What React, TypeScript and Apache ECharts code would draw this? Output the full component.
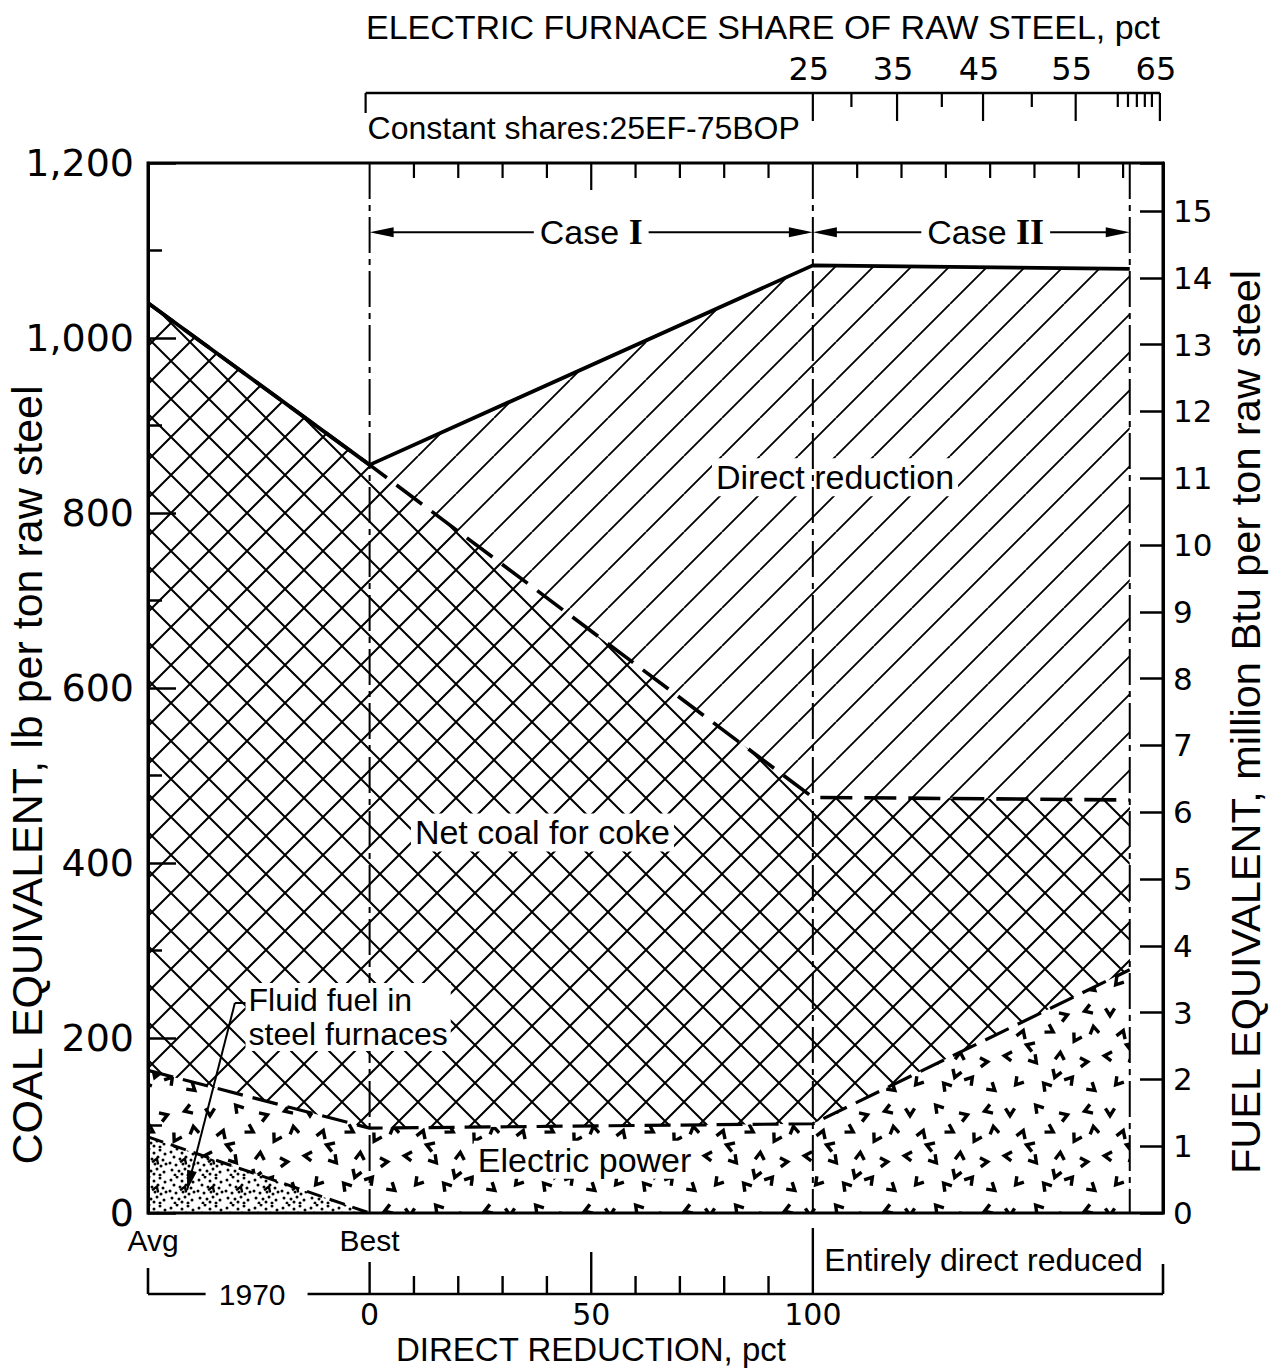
import React, { useEffect, useRef } from 'react';
import * as echarts from 'echarts';

// ---- data (coal equivalent, lb per ton raw steel) ----
// x positions on the direct-reduction scale: Avg 1970, Best 1970 (=0 pct DR), 100 pct DR, entirely DR (Case II end)
const xKeys = [-50, 0, 100, 171.5];
const totalEnergy = [1040, 855, 1083, 1079];
const netCoalForCoke = [1040, 855, 475, 472];
const electricPower = [163, 97, 102, 278];
const fluidFuelX = [-50, 0];
const fluidFuel = [87, 0];

// ---- axes / tick labels ----
const coalMax = 1200;
const fuelMax = 15.72; // million Btu at 1,200 lb coal equivalent
const drTopTicks = [10, 20, 30, 40, 50, 60, 70, 80, 90, 110, 120, 130, 140, 150, 160, 170];
const drAxisTicks = [0, 10, 20, 30, 40, 50, 60, 70, 80, 90, 100];
const drAxisLabels = [0, 50, 100];
const efShares = [25, 30, 35, 40, 45, 50, 55, 60, 61, 62, 63, 64, 65];
const efSharePos = [100, 108.7, 119, 129.1, 138.4, 149.4, 159.3, 168.8, 171.1, 173.1, 174.9, 176.5, 178.3];
const efLabels = [25, 35, 45, 55, 65];
const caseSpans = [
  { name: 'I', from: 0, to: 100, labelAt: 50 },
  { name: 'II', from: 100, to: 171.5, labelAt: 139 },
];
const areaLabels = [
  { text: 'Direct reduction', x: 105, y: 841 },
  { text: 'Net coal for coke', x: 39, y: 435 },
  { text: 'Electric power', x: 48.5, y: 61 },
];

const SANS = '"Liberation Sans", Arial, sans-serif';
const NUM = '"DejaVu Sans", sans-serif';

function hatchTile(s: number, both: boolean, lw: number) {
  const cv = document.createElement('canvas');
  cv.width = s; cv.height = s;
  const g = cv.getContext('2d')!;
  g.fillStyle = '#fff'; g.fillRect(0, 0, s, s);
  g.strokeStyle = '#000'; g.lineWidth = lw;
  g.beginPath();
  for (let k = -1; k <= 1; k++) { g.moveTo(k * s, s); g.lineTo(k * s + s, 0); }
  if (both) for (let k = -1; k <= 1; k++) { g.moveTo(k * s, 0); g.lineTo(k * s + s, s); }
  g.stroke();
  return { image: cv, repeat: 'repeat', imageWidth: s, imageHeight: s };
}

const speckleMarks = [
  [10, 12, 0], [38, 8, 140], [64, 16, 250], [88, 10, 70],
  [22, 34, 200], [50, 30, 300], [76, 38, 30], [94, 30, 170],
  [8, 56, 95], [34, 60, 320], [60, 56, 185], [84, 62, 265],
  [18, 82, 40], [46, 86, 140], [70, 80, 220], [92, 88, 310],
  [30, 46, 110], [56, 74, 20],
];
function chevron(g: CanvasRenderingContext2D, x: number, y: number, a: number, sz: number) {
  g.save(); g.translate(x, y); g.rotate((a * Math.PI) / 180);
  g.beginPath(); g.moveTo(-sz, -sz * 0.8); g.lineTo(0, sz * 0.8); g.lineTo(sz, -sz * 0.8);
  g.stroke(); g.restore();
}
function speckleTile() {
  const s = 100;
  const cv = document.createElement('canvas');
  cv.width = s; cv.height = s;
  const g = cv.getContext('2d')!;
  g.fillStyle = '#fff'; g.fillRect(0, 0, s, s);
  g.strokeStyle = '#000'; g.lineWidth = 3.4; g.lineJoin = 'miter';
  speckleMarks.forEach(([x, y, a]) => chevron(g, x, y, a, 4.6));
  return { image: cv, repeat: 'repeat', imageWidth: s, imageHeight: s };
}
const dotSpots = [
  [3, 4], [9, 1], [14, 5], [20, 2], [25, 6], [6, 9], [12, 11], [18, 9], [23, 12],
  [2, 15], [8, 17], [15, 16], [21, 18], [26, 16], [4, 22], [11, 23], [17, 21], [24, 24],
  [7, 27], [14, 26], [20, 27],
];
function dotTile() {
  const s = 28;
  const cv = document.createElement('canvas');
  cv.width = s; cv.height = s;
  const g = cv.getContext('2d')!;
  g.fillStyle = '#fff'; g.fillRect(0, 0, s, s);
  g.fillStyle = '#000';
  dotSpots.forEach(([x, y]) => { g.beginPath(); g.arc(x, y, 1.5, 0, Math.PI * 2); g.fill(); });
  g.strokeStyle = '#000'; g.lineWidth = 2.4;
  chevron(g, 16, 13, 200, 3.2);
  return { image: cv, repeat: 'repeat', imageWidth: s, imageHeight: s };
}

const pair = (xs: number[], ys: number[]) => xs.map((x, i) => [x, ys[i]]);

export default function App() {
  const ref = useRef<HTMLDivElement>(null);
  useEffect(() => {
    const chart = echarts.init(ref.current!, null, { renderer: 'svg' });

    const areaSeries = (name: string, data: number[][], color: any, z: number) => ({
      name, type: 'line', data, symbol: 'none', silent: true, z,
      lineStyle: { width: 0, opacity: 0 },
      areaStyle: { color, opacity: 1 },
    });
    const lineSeries = (name: string, data: number[][], width: number, dash: any, z: number) => ({
      name, type: 'line', data, symbol: 'none', silent: true, z,
      lineStyle: { color: '#000', width, type: dash },
    });

    const renderDecor = (_params: any, api: any) => {
      const P = (x: number, y: number) => api.coord([x, y]);
      const X = (x: number) => P(x, 0)[0];
      const top = P(0, coalMax)[1];
      const bottom = P(0, 0)[1];
      const ch: any[] = [];
      const line = (x1: number, y1: number, x2: number, y2: number, lw = 2, dash: any = null) =>
        ch.push({ type: 'line', shape: { x1, y1, x2, y2 }, style: { stroke: '#000', lineWidth: lw, lineDash: dash } });
      const text = (t: string, x: number, y: number, font: string, align = 'center', extra: any = {}) =>
        ch.push({ type: 'text', style: { text: t, x, y, fill: '#000', font, align, verticalAlign: 'middle', ...extra } });
      const arrow = (tx: number, ty: number, dx: number, dy: number, len: number, hw: number) => {
        const m = Math.hypot(dx, dy); const ux = dx / m; const uy = dy / m;
        const bx = tx - ux * len; const by = ty - uy * len;
        ch.push({ type: 'polygon', shape: { points: [[tx, ty], [bx - uy * hw, by + ux * hw], [bx + uy * hw, by - ux * hw]] }, style: { fill: '#000' } });
      };

      // area labels (white backing)
      areaLabels.forEach((l) => {
        const [px, py] = P(l.x, l.y);
        text(l.text, px, py, `34px ${SANS}`, 'center', { backgroundColor: '#fff', padding: [2, 4] });
      });

      // Case arrows
      const caseY = P(0, 1121)[1];
      caseSpans.forEach((c) => {
        const a = X(c.from); const b = X(c.to);
        line(a + 6, caseY, b - 6, caseY, 2);
        arrow(a, caseY, -1, 0, 24, 5);
        arrow(b, caseY, 1, 0, 24, 5);
        text(`Case {r|${c.name}}`, X(c.labelAt), caseY, `34px ${SANS}`, 'center', {
          backgroundColor: '#fff', padding: [0, 6],
          rich: { r: { font: `bold 36px "Liberation Serif", serif`, fill: '#000' } },
        });
      });

      // vertical reference lines
      [0, 100, 171.5].forEach((v) => line(X(v), top, X(v), bottom, 2, [36, 6, 6, 6]));

      // inner ticks on top border (DR scale)
      drTopTicks.forEach((t) => line(X(t), top, X(t), top + (t === 50 ? 27 : 15), 2.2));

      // electric furnace share axis above plot
      const yEF = top - 70;
      line(X(0) - 4, yEF, X(efSharePos[efSharePos.length - 1]), yEF, 2.6);
      line(X(0) - 4, yEF, X(0) - 4, yEF + 20, 2.2);
      efShares.forEach((s, i) => {
        const long = efLabels.includes(s);
        line(X(efSharePos[i]), yEF, X(efSharePos[i]), yEF + (long ? 28 : 14), 2.2);
      });
      efLabels.forEach((s) => {
        const i = efShares.indexOf(s);
        text(String(s), X(efSharePos[i]) - 4, yEF - 24, `32px ${NUM}`);
      });
      text('Constant shares:25EF-75BOP', X(0) - 2, yEF + 35, `32px ${SANS}`, 'left');

      // direct reduction axis below plot
      const yB = bottom + 81;
      line(X(-50), bottom + 55, X(-50), yB, 2.6);
      line(X(-50), yB, X(-37), yB, 2.6);
      text('1970', X(-26.5), yB, `30px ${SANS}`);
      line(X(-14), yB, X(179), yB, 2.6);
      line(X(179), yB, X(179), yB - 30, 2.6);
      drAxisTicks.forEach((t) => {
        const len = t === 0 ? 32 : t === 50 ? 42 : t === 100 ? 66 : 18;
        line(X(t), yB, X(t), yB - len, 2.4);
      });
      drAxisLabels.forEach((v) => text(String(v), X(v), yB + 20, `30px ${NUM}`));
      text('Avg', X(-50) + 5, bottom + 27, `30px ${SANS}`);
      text('Best', X(0), bottom + 27, `30px ${SANS}`);
      text('Entirely direct reduced', X(138.5), bottom + 47, `32px ${SANS}`);

      // fluid fuel annotation
      const [fx, fy] = P(-30.4, 240);
      const [ex, ey] = P(-41.2, 26);
      line(fx, fy, fx + 12, fy, 2);
      line(fx, fy, ex, ey, 2);
      arrow(ex, ey, ex - fx, ey - fy, 20, 5);
      const [tx, ty] = P(-28, 224);
      text('Fluid fuel in\nsteel furnaces', tx, ty, `32px ${SANS}`, 'left', { backgroundColor: '#fff', padding: [0, 3], lineHeight: 34 });

      return { type: 'group', children: ch };
    };

    chart.setOption({
      animation: false,
      grid: { left: 148, right: 111, top: 163, bottom: 157, show: true, z: 10, borderColor: '#000', borderWidth: 3, backgroundColor: 'transparent' },
      xAxis: { type: 'value', min: -50, max: 179, show: false },
      yAxis: [
        {
          type: 'value', min: 0, max: coalMax, interval: 200, position: 'left', z: 10,
          axisLine: { show: true, onZero: false, lineStyle: { color: '#000', width: 3 } },
          axisTick: { show: true, inside: true, length: 28, lineStyle: { color: '#000', width: 2.5 } },
          minorTick: { show: true, splitNumber: 2, length: 14, lineStyle: { color: '#000', width: 2.5 } },
          splitLine: { show: false },
          axisLabel: {
            margin: 14, fontSize: 38, fontFamily: '"DejaVu Sans"', color: '#000',
            formatter: (v: number) => (v >= 1000 ? `${Math.floor(v / 1000)},${String(v % 1000).padStart(3, '0')}` : String(v)),
          },
        },
        {
          type: 'value', min: 0, max: fuelMax, interval: 1, position: 'right', z: 10,
          axisLine: { show: true, onZero: false, lineStyle: { color: '#000', width: 3 } },
          axisTick: { show: true, inside: true, length: 23, lineStyle: { color: '#000', width: 2.5 } },
          splitLine: { show: false },
          axisLabel: {
            margin: 10, fontSize: 31, fontFamily: '"DejaVu Sans"', color: '#000',
            formatter: (v: number) => (Number.isInteger(v) ? String(v) : ''),
          },
        },
      ],
      graphic: [
        { type: 'text', x: 763, y: 27, style: { text: 'ELECTRIC FURNACE SHARE OF RAW STEEL, pct', font: `34px ${SANS}`, fill: '#000', align: 'center', verticalAlign: 'middle' } },
        { type: 'text', x: 591, y: 1349, style: { text: 'DIRECT REDUCTION, pct', font: `33px ${SANS}`, fill: '#000', align: 'center', verticalAlign: 'middle' } },
        { type: 'text', x: 27, y: 775, rotation: Math.PI / 2, style: { text: 'COAL EQUIVALENT, lb per ton raw steel', font: `43px ${SANS}`, fill: '#000', align: 'center', verticalAlign: 'middle' } },
        { type: 'text', x: 1245, y: 722, rotation: Math.PI / 2, style: { text: 'FUEL EQUIVALENT, million Btu per ton raw steel', font: `41.5px ${SANS}`, fill: '#000', align: 'center', verticalAlign: 'middle' } },
      ],
      series: [
        areaSeries('Direct reduction', pair(xKeys, totalEnergy), hatchTile(38, false, 1.8), 1),
        areaSeries('Net coal for coke', pair(xKeys, netCoalForCoke), hatchTile(38, true, 2), 2),
        areaSeries('Electric power', pair(xKeys, electricPower), speckleTile(), 3),
        areaSeries('Fluid fuel in steel furnaces', pair(fluidFuelX, fluidFuel), dotTile(), 4),
        {
          type: 'custom', name: 'decor', data: [[0, 0]], renderItem: renderDecor, clip: false, silent: true, z: 5,
        },
        lineSeries('Fluid fuel line', pair(fluidFuelX, fluidFuel), 3, [16, 8], 6),
        lineSeries('Electric power line', pair(xKeys, electricPower), 3.2, [26, 10], 6),
        lineSeries('Net coal for coke line', pair(xKeys, netCoalForCoke), 3.6, [32, 12], 6),
        lineSeries('Total', pair(xKeys, totalEnergy), 3.8, 'solid', 7),
      ],
    });
    return () => chart.dispose();
  }, []);
  return <div ref={ref} style={{ position: 'absolute', left: 0, top: 0, width: 1274, height: 1370, background: '#fff' }} />;
}
